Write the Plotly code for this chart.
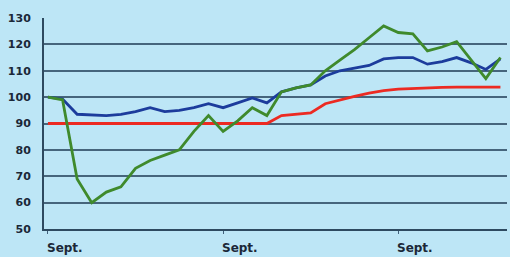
import plotly.graph_objects as go

months = list(range(32))
green = [100, 99, 69, 60, 64, 66, 73, 76, 78, 80, 87, 93, 87, 91, 96, 93,
         102, 103.5, 104.6, 110, 114, 118, 122.5, 127, 124.5, 124, 117.5, 119, 121, 114, 107, 115]
blue = [100, 99.3, 93.5, 93.2, 93, 93.5, 94.5, 96, 94.5, 95, 96, 97.5, 96, 97.8, 99.7, 97.8,
        102, 103.5, 104.6, 108, 110, 111, 112, 114.5, 115, 115, 112.5, 113.5, 115, 113, 110.5, 114.5]
red = [90, 90, 90, 90, 90, 90, 90, 90, 90, 90, 90, 90, 90, 90, 90, 90,
       93, 93.5, 94, 97.5, 99, 100.3, 101.5, 102.5, 103, 103.3, 103.5, 103.7, 103.8, 103.8, 103.8, 103.8]
tick_pos = [0, 12, 24]
tick_text = ["Sept.", "Sept.", "Sept."]
y_ticks = [50, 60, 70, 80, 90, 100, 110, 120, 130]

x_range = [-0.27, 31.45]

fig = go.Figure()
fig.add_trace(go.Scatter(x=months, y=red, mode="lines", line=dict(color="#ec2a22", width=2.8)))
fig.add_trace(go.Scatter(x=months, y=blue, mode="lines", line=dict(color="#1c3c9c", width=2.8)))
fig.add_trace(go.Scatter(x=months, y=green, mode="lines", line=dict(color="#3f8a2c", width=2.8)))

for p, t in zip(tick_pos, tick_text):
    fig.add_annotation(
        x=max(p, x_range[0]), xref="x", y=0, yref="paper",
        xanchor="left", yanchor="bottom", yshift=-28, xshift=-3,
        text=t, showarrow=False,
        font=dict(size=12, family="DejaVu Sans", weight="bold", color="#1b2838"),
    )

bg = "#bde6f6"
fig.update_layout(
    width=510, height=257,
    margin=dict(l=44, r=3, t=18, b=28, autoexpand=False),
    paper_bgcolor=bg, plot_bgcolor=bg,
    showlegend=False,
    font=dict(family="DejaVu Sans", color="#1b2838"),
)
fig.update_xaxes(
    range=x_range, tickvals=tick_pos, showticklabels=False,
    ticks="outside", ticklen=3, tickcolor="#40607a",
    showgrid=False, zeroline=False, automargin=False,
    showline=True, linecolor="#2e4a60", linewidth=2,
)
fig.update_yaxes(
    range=[50, 130], tickvals=y_ticks,
    showgrid=True, gridcolor="#46657c", gridwidth=2,
    zeroline=False, showline=True, linecolor="#2e4a60", linewidth=2,
    ticks="", ticklabelstandoff=9, automargin=False,
    tickfont=dict(size=11, family="DejaVu Sans", weight="bold", color="#1b2838"),
)
fig.write_html(
    "out.html",
    config={"displayModeBar": False, "staticPlot": True},
    post_script="document.body.style.margin='0';document.body.style.background='%s';" % bg,
)
